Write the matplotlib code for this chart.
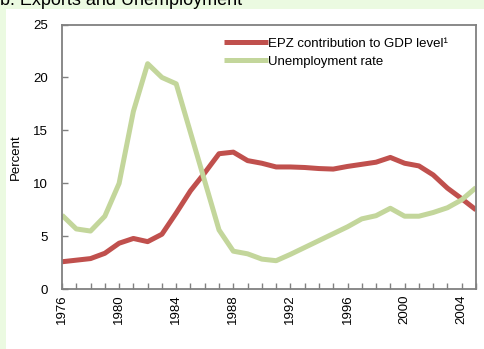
import matplotlib
matplotlib.use("Agg")
import matplotlib.pyplot as plt
from matplotlib.patches import Rectangle
from matplotlib.ticker import MultipleLocator

plt.rcParams['font.family'] = ['Liberation Sans', 'DejaVu Sans']

years = list(range(1976, 2006))
epz_gdp = [2.6, 2.75, 2.9, 3.4, 4.35, 4.8, 4.5, 5.2, 7.2, 9.3, 11.0, 12.8, 12.95,
           12.15, 11.9, 11.55, 11.55, 11.5, 11.4, 11.35, 11.6, 11.8, 12.0, 12.45,
           11.9, 11.65, 10.8, 9.55, 8.55, 7.5]
unemployment = [7.0, 5.7, 5.5, 6.9, 10.0, 16.8, 21.3, 20.0, 19.4, 14.8, 10.2, 5.6,
                3.6, 3.35, 2.85, 2.7, 3.3, 3.95, 4.6, 5.25, 5.9, 6.65, 6.95, 7.65,
                6.9, 6.9, 7.25, 7.7, 8.45, 9.6]
year_labels = [1976, 1980, 1984, 1988, 1992, 1996, 2000, 2004]

W, H = 484, 349
fig = plt.figure(figsize=(W / 100, H / 100), dpi=100)
fig.patch.set_facecolor('#ebfae1')
# white panel under the chart
fig.add_artist(Rectangle((6 / W, 0), 1, (H - 9) / H, transform=fig.transFigure,
                         facecolor='white', edgecolor='none', zorder=0))
fig.text(0 / W, 1 - 5 / H, "b. Exports and Unemployment", fontsize=13,
         ha='left', va='baseline', color='black')

ax = fig.add_axes([62 / W, 1 - 289.3 / H, (476 - 62) / W, (289.3 - 24.5) / H])
ax.plot(years, epz_gdp, color='#c0504d', lw=3.6, label='EPZ contribution to GDP level¹',
        solid_capstyle='butt')
ax.plot(years, unemployment, color='#c3d69b', lw=3.6, label='Unemployment rate',
        solid_capstyle='butt')

ax.set_xlim(1976, 2005)
ax.set_ylim(0, 25)
ax.set_xticks(year_labels)
ax.set_xticklabels([str(y) for y in year_labels], rotation=90)
ax.xaxis.set_minor_locator(MultipleLocator(1))
ax.yaxis.set_major_locator(MultipleLocator(5))
ax.tick_params(axis='both', which='both', direction='in', color='#808080',
               labelsize=9.5, width=1)
ax.tick_params(axis='x', which='both', length=4.5, pad=4)
ax.tick_params(axis='y', length=4.5, pad=10)
for s in ax.spines.values():
    s.set_color('#808080')
    s.set_linewidth(1.3)
ax.set_ylabel('Percent', fontsize=9.5, labelpad=8)

ax.legend(loc='upper right', bbox_to_anchor=(0.964, 1.0), frameon=False, fontsize=9.5,
          handlelength=3.3, handletextpad=0.0, labelspacing=0.45,
          borderaxespad=0.6)

fig.savefig('out.png', dpi=100, facecolor=fig.get_facecolor())
